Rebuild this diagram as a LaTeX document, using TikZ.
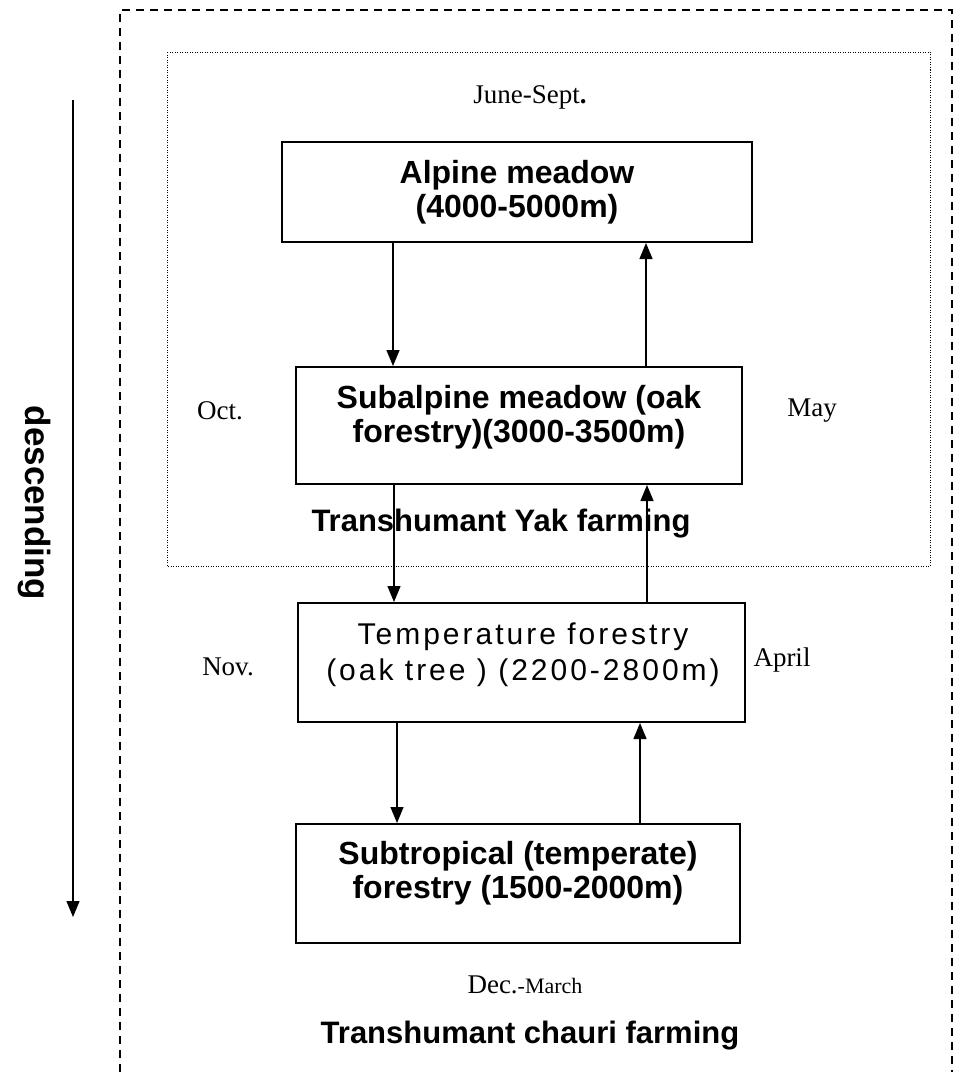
\documentclass[tikz,border=0pt]{standalone}
\usepackage{fontspec}
\setmainfont{Liberation Serif}
\newfontfamily\arialfont{Liberation Sans}
\newfontfamily\arialspaced[LetterSpace=10]{Liberation Sans}
\usetikzlibrary{arrows.meta}
\begin{document}
\begin{tikzpicture}[x=1pt,y=-1pt,
  box/.style={draw, line width=2pt, inner sep=0pt, fill=white},
  boxtxt/.style={font=\arialfont\bfseries\fontsize{32}{34}\selectfont, align=center, inner sep=0pt},
  temptxt/.style={font=\arialspaced\fontsize{30}{36}\selectfont, align=center, inner sep=0pt},
  lbl/.style={font=\fontsize{27}{30}\selectfont, inner sep=0pt},
  title/.style={font=\arialfont\bfseries\fontsize{31}{34}\selectfont, inner sep=0pt},
  flow/.style={line width=1.3pt, -{Triangle[width=13pt,length=16pt]}},
  outerdash/.style={line width=1.5pt, dash pattern=on 8pt off 6pt},
  innerdot/.style={line width=1pt, dash pattern=on 1pt off 1.5pt},
]
\useasboundingbox (0,0) rectangle (966,1072);

% frames
\draw[outerdash] (120,1072) -- (120,10) -- (952,10) -- (952,1072);
\draw[innerdot] (167,52) rectangle (930,566);

% boxes
\node[box, minimum width=470pt, minimum height=100pt] (alp) at (517,192) {};
\node[box, minimum width=446pt, minimum height=117pt] (sub) at (519,425.5) {};
\node[box, minimum width=447pt, minimum height=119pt] (tmp) at (521.5,662.5) {};
\node[box, minimum width=444pt, minimum height=119pt] (trop) at (518,883.5) {};

% box texts
\node[boxtxt] (alpt) at (517,192) {Alpine meadow\\(4000-5000m)};
\node[boxtxt] (subt) at (519,417) {Subalpine meadow (oak\\forestry)(3000-3500m)};
\node[temptxt] (tmpt) at (523,655) {Temperature forestry\\(oak tree ) (2200-2800m)};
\node[boxtxt] (tropt) at (518,873) {Subtropical (temperate)\\forestry (1500-2000m)};

% flows
\draw[flow] ([xshift=-124pt]alp.south) -- ([xshift=-126pt]sub.north);
\draw[flow] ([xshift=127pt]sub.north) -- ([xshift=129pt]alp.south);
\draw[flow] ([xshift=-125pt]sub.south) -- ([xshift=-127.5pt]tmp.north);
\draw[flow] ([xshift=125.5pt]tmp.north) -- ([xshift=128pt]sub.south);
\draw[flow] ([xshift=-124.5pt]tmp.south) -- ([xshift=-121pt]trop.north);
\draw[flow] ([xshift=122pt]trop.north) -- ([xshift=118.5pt]tmp.south);

% descending
\coordinate (dtop) at (73,100);
\coordinate (dbot) at (73,917);
\draw[flow] (dtop) -- (dbot);
\node[title, font=\arialfont\bfseries\fontsize{35}{38}\selectfont, rotate=-90] (desc) at (34,503) {descending};

% labels
\node[lbl] (june) at (530,97) {June-Sept\textbf{.}};
\node[lbl] (oct) at (220,411) {Oct.};
\node[lbl] (may) at (812,411) {May};
\node[lbl] (nov) at (228,667) {Nov.};
\node[lbl] (apr) at (782,660) {April};
\node[lbl] (dec) at (525,985) {Dec.{\fontsize{22}{24}\selectfont -March}};

% titles
\node[title] (yak) at (501,524) {Transhumant Yak farming};
\node[title] (chauri) at (530,1036) {Transhumant chauri farming};
\end{tikzpicture}
\end{document}
